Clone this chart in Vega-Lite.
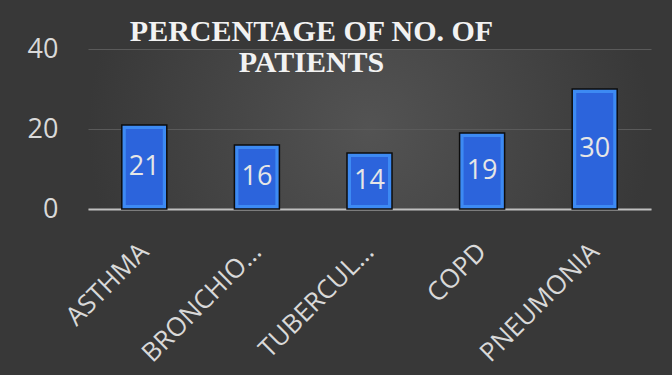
{
  "$schema": "https://vega.github.io/schema/vega-lite/v6.json",
  "width": 563,
  "height": 160,
  "autosize": {"type": "none"},
  "padding": {"left": 88, "top": 49, "right": 21, "bottom": 166},
  "background": "#383838",
  "title": {
    "text": ["PERCENTAGE OF NO. OF", "PATIENTS"],
    "font": "Liberation Serif",
    "fontSize": 30,
    "fontWeight": "bold",
    "color": "#f2f2f2",
    "anchor": "middle",
    "frame": "group",
    "baseline": "top",
    "offset": 0,
    "dx": -58,
    "dy": 43,
    "lineHeight": 31
  },
  "config": {
    "view": {
      "stroke": null,
      "fill": {
        "gradient": "radial",
        "x1": 0.5, "y1": 0.5, "r1": 0,
        "x2": 0.5, "y2": 0.5, "r2": 0.5,
        "stops": [
          {"offset": 0, "color": "#535353"},
          {"offset": 1, "color": "#383838"}
        ]
      }
    }
  },
  "data": {
    "values": [
      {"disease": "ASTHMA", "value": 21},
      {"disease": "BRONCHIOLITIS", "value": 16},
      {"disease": "TUBERCULOSIS", "value": 14},
      {"disease": "COPD", "value": 19},
      {"disease": "PNEUMONIA", "value": 30}
    ]
  },
  "encoding": {
    "x": {
      "field": "disease",
      "type": "nominal",
      "sort": null,
      "scale": {"paddingInner": 0.59, "paddingOuter": 0.295},
      "axis": {
        "title": null,
        "labelAngle": -45,
        "labelAlign": "right",
        "labelBaseline": "top",
        "labelFont": "Open Sans",
        "labelFontSize": 26,
        "labelColor": "#d9d9d9",
        "labelPadding": 29,
        "labelOffset": -9,
        "labelLimit": 400,
        "labelExpr": "truncate(datum.label, 9)",
        "ticks": false,
        "domainColor": "#bfbfbf",
        "domainWidth": 2
      }
    }
  },
  "layer": [
    {
      "mark": {"type": "bar", "fill": "#3d8af3", "stroke": "#0d0d0d", "strokeWidth": 1.5, "size": 45},
      "encoding": {
        "y": {
          "field": "value",
          "type": "quantitative",
          "scale": {"domain": [0, 40], "nice": false},
          "axis": {
            "values": [0, 20, 40],
            "title": null,
            "grid": true,
            "gridColor": "#5a5a5a",
            "gridWidth": 1,
            "domain": false,
            "ticks": false,
            "labelPadding": 30,
            "labelFont": "Open Sans",
            "labelFontSize": 27,
            "labelColor": "#d9d9d9"
          }
        }
      }
    },
    {
      "mark": {"type": "bar", "fill": "#2c64dc", "size": 37, "yOffset": 4, "y2Offset": -4},
      "encoding": {
        "y": {"field": "value", "type": "quantitative", "scale": {"domain": [0, 40], "nice": false}, "axis": null},
        "y2": {"datum": 0}
      }
    },
    {
      "mark": {"type": "text", "font": "Open Sans", "fontSize": 27, "color": "#e6e6e6", "baseline": "middle", "align": "center"},
      "encoding": {
        "y": {"field": "value", "type": "quantitative", "scale": {"domain": [0, 80], "nice": false}, "axis": null},
        "text": {"field": "value", "type": "quantitative"}
      }
    }
  ],
  "resolve": {"scale": {"y": "independent"}}
}
